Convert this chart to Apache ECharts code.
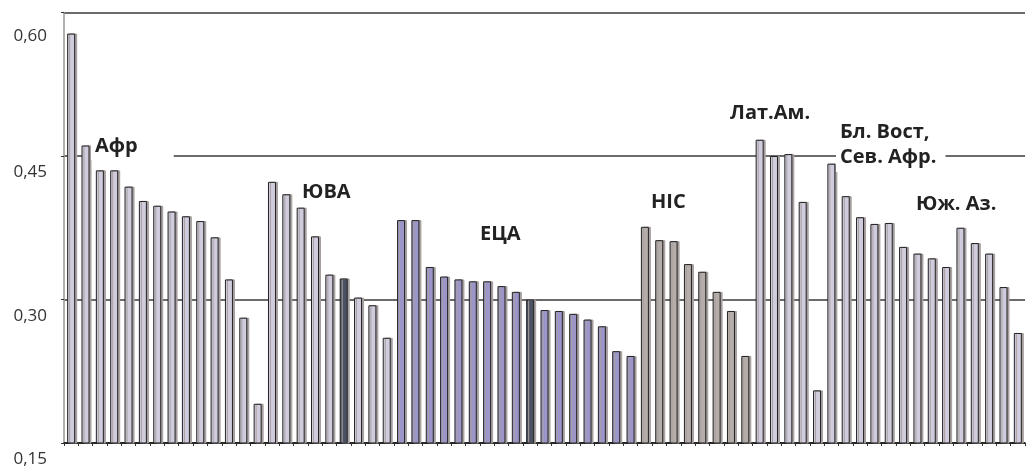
<!DOCTYPE html>
<html>
<head>
<meta charset="utf-8">
<script src="https://cdn.jsdelivr.net/npm/echarts@6/dist/echarts.min.js"></script>
<style>
html,body{margin:0;padding:0;background:#fff;}
#chart{width:1032px;height:469px;}
</style>
</head>
<body>
<div id="chart"></div>
<script>
// Region groups (order of bars from left to right)
const groupNames = ['Афр', 'ЮВА', 'ЕЦА', 'НІС', 'Лат.Ам.', 'Бл. Вост, Сев. Афр.', 'Юж. Аз.'];
const groupSizes = [14, 9, 17, 8, 5, 5, 9];

// Values (one per bar)
const values = [
  0.578, 0.461, 0.435, 0.435, 0.418, 0.403, 0.398, 0.392, 0.387, 0.382, 0.365, 0.321, 0.281, 0.191,
  0.423, 0.410, 0.396, 0.366, 0.326, 0.322, 0.302, 0.294, 0.260,
  0.383, 0.383, 0.334, 0.324, 0.321, 0.319, 0.319, 0.314, 0.308, 0.300, 0.289, 0.288, 0.285, 0.279, 0.272, 0.246, 0.241,
  0.376, 0.362, 0.361, 0.337, 0.329, 0.308, 0.288, 0.241,
  0.467, 0.450, 0.452, 0.402, 0.205,
  0.442, 0.408, 0.386, 0.379, 0.380,
  0.355, 0.348, 0.343, 0.334, 0.375, 0.359, 0.348, 0.313, 0.265
];

// Bars drawn in dark colour, 0-based positions
const darkBars = [19, 32];

// Y-axis tick labels
const yTickLabels = ['0,15', '0,30', '0,45', '0,60'];

const groupColors = ['#d0ccde', '#d0ccde', '#9b95ca', '#b5ada9', '#d0ccde', '#d0ccde', '#d0ccde'];
const darkColor = '#4a5162';

const categories = [];
const barGroup = [];
groupNames.forEach((g, gi) => {
  for (let k = 0; k < groupSizes[gi]; k++) { categories.push(g + ' ' + (k + 1)); barGroup.push(gi); }
});

const seriesData = values.map((v, i) => ({
  value: v,
  itemStyle: { color: darkBars.includes(i) ? darkColor : groupColors[barGroup[i]] }
}));

const chart = echarts.init(document.getElementById('chart'));
const labelFont = '"Open Sans", "Noto Sans", sans-serif';
const annFont = 'bold 20px ' + labelFont;
const ann = (t, x, y) => ({
  type: 'text', left: x, top: y, z: 100,
  style: { text: t, font: annFont, fill: '#222' }
});

chart.setOption({
  animation: false,
  grid: { left: 64, right: 7, top: 12.5, bottom: 26 },
  xAxis: {
    type: 'category',
    data: categories,
    boundaryGap: true,
    axisLine: { lineStyle: { color: '#111', width: 1.5 } },
    axisTick: { show: true, interval: 0, length: 3, lineStyle: { color: '#333' } },
    axisLabel: { show: false },
    splitLine: { show: false }
  },
  yAxis: {
    type: 'value',
    min: 0.15, max: 0.60, interval: 0.15,
    axisLine: { show: true, lineStyle: { color: '#9c9696', width: 1.5 } },
    axisTick: { show: true, length: 3, lineStyle: { color: '#333' } },
    splitLine: { show: true, lineStyle: { color: '#3a3a3a', width: 1.5 } },
    axisLabel: {
      margin: 17,
      color: '#333',
      fontSize: 17,
      fontFamily: labelFont,
      verticalAlign: 'top',
      formatter: function (v) {
        const idx = Math.round((v - 0.15) / 0.15);
        const t = yTickLabels[idx];
        return idx === 3 ? '{hi|' + t + '}' : '{lo|' + t + '}';
      },
      rich: {
        hi: { padding: [15, 0, 0, 0], fontSize: 17, color: '#333', fontFamily: labelFont },
        lo: { padding: [8, 0, 0, 0], fontSize: 17, color: '#333', fontFamily: labelFont }
      }
    }
  },
  series: [{
    type: 'bar',
    data: seriesData,
    barWidth: 8,
    itemStyle: {
      borderColor: '#222',
      borderWidth: 1,
      shadowColor: '#a8a0a0',
      shadowOffsetX: 2,
      shadowOffsetY: 0,
      shadowBlur: 0
    }
  }],
  graphic: [
    { type: 'text', left: 91, top: 134, z: 100,
      style: { text: 'Афр', font: annFont, fill: '#222', backgroundColor: '#fff', padding: [2, 36, 4, 4] } },
    ann('ЮВА', 302, 182),
    ann('ЕЦА', 480, 224),
    ann('НІС', 651, 192),
    ann('Лат.Ам.', 730, 103),
    { type: 'text', left: 836, top: 120, z: 100,
      style: { text: 'Бл. Вост,\nСев. Афр.', font: annFont, fill: '#222', lineHeight: 25, backgroundColor: '#fff', padding: [0, 9, 2, 4] } },
    ann('Юж. Аз.', 916, 194)
  ]
});
</script>
</body>
</html>
